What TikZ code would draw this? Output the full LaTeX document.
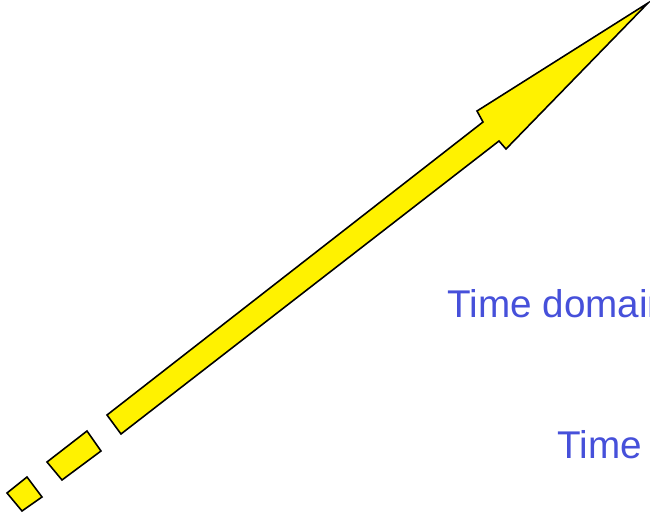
\documentclass[tikz,border=0pt]{standalone}
\usepackage{fontspec}
\setmainfont{Liberation Sans}
\definecolor{labelblue}{RGB}{70,80,218}
\tikzset{
  yellowpart/.style={draw=black, fill=yellow, line width=0.9pt, line join=miter},
  axislabel/.style={text=labelblue, font=\fontsize{22}{26}\selectfont, inner sep=0pt, anchor=base west}
}

\begin{document}
\begin{tikzpicture}[x=0.02cm, y=-0.02cm]
    \useasboundingbox (0,0) rectangle (650,518);
    % dashes at the tail
    \draw[yellowpart](7,493)--(27,477)--(42,497)--(22,511)--cycle;
    \draw[yellowpart](47,462)--(87,431)--(101,451)--(62,480)--cycle;
    % shaft and head
    \draw[yellowpart](107,415)--(483,122)--(477,111)--(648,3)--(506,149)--(499,141)--(121,434)--cycle;
    \node[axislabel](td)at (447,317){Time domain};
    \node[axislabel](t)at (557,458){Time};
\end{tikzpicture}
\end{document}
